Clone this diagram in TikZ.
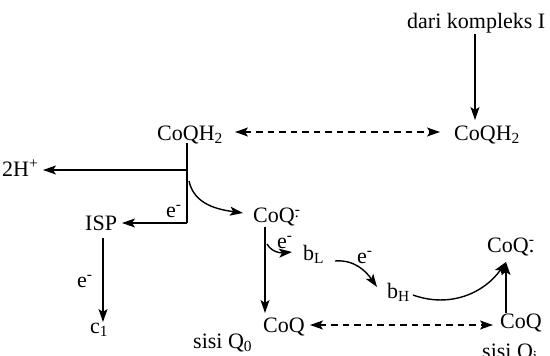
\documentclass[tikz,border=0pt]{standalone}
\usepackage{fontspec}
\setmainfont{Liberation Serif}
\usetikzlibrary{arrows.meta}
\begin{document}
\begin{tikzpicture}[x=1pt,y=-1pt,
  lbl/.style={inner sep=0pt, anchor=base west, font=\fontsize{22}{26}\selectfont},
  tip/.tip={Stealth[length=13pt,width=9pt,inset=3pt]},
  arr/.style={line width=1.4pt, -tip},
  ln/.style={line width=1.4pt},
  dbl/.style={line width=1.4pt, dash pattern=on 6.5pt off 5pt, tip-tip}]
\useasboundingbox (0,0) rectangle (550,356);
% nodes
\node[lbl] (dari) at (407,28) {dari kompleks I};
\node[lbl] (qh2r) at (454,140) {CoQH\textsubscript{2}};
\node[lbl] (qh2l) at (157,140) {CoQH\textsubscript{2}};
\node[lbl] (hp) at (2,176) {2H\textsuperscript{+}};
\node[lbl] (isp) at (85,230) {ISP};
\node[lbl] (c1) at (90,333) {c\textsubscript{1}};
\node[lbl] (qm) at (253,222) {CoQ\textsuperscript{\rlap{-}\raisebox{-3pt}{.}}};
\node[lbl] (bl) at (303,260) {b\textsubscript{L}};
\node[lbl] (bh) at (387,298) {b\textsubscript{H}};
\node[lbl] (qr) at (487,252) {CoQ\rlap{\textsuperscript{-}}.};
\node[lbl] (qb) at (263,332) {CoQ};
\node[lbl] (qbr) at (500,328) {CoQ};
\node[lbl] (s0) at (193,348) {sisi Q\textsubscript{0}};
\node[lbl] (si) at (482,358) {sisi Q\textsubscript{i}};
\node[lbl] (e1) at (166,217) {e\textsuperscript{-}};
\node[lbl] (e2) at (277,248) {e\textsuperscript{-}};
\node[lbl] (e3) at (357,263) {e\textsuperscript{-}};
\node[lbl] (e4) at (77,287) {e\textsuperscript{-}};
% coordinates
\coordinate (d1) at (475,34);
\coordinate (d2) at (475,120);
\coordinate (t1) at (235,132);
\coordinate (t2) at (440,132);
\coordinate (j0) at (187,143);
\coordinate (j1) at (187,170);
\coordinate (j2) at (187,223);
\coordinate (hpe) at (43,170);
\coordinate (ispe) at (122,223);
\coordinate (cs) at (189,181);
\coordinate (ce) at (243,213);
\coordinate (i1) at (103,238);
\coordinate (i2) at (103,322);
\coordinate (m1) at (265,227);
\coordinate (m2) at (265,313);
\coordinate (ss) at (267,244);
\coordinate (se) at (292,252);
\coordinate (l1) at (335,261);
\coordinate (l2) at (377,287);
\coordinate (h1) at (413,295);
\coordinate (h2) at (506,262);
\coordinate (r1) at (506,313);
\coordinate (b1) at (310,325);
\coordinate (b2) at (493,325);
% connectors
\draw[arr] (d1) -- (d2);
\draw[dbl] (t1) -- (t2);
\draw[ln] (j0) -- (j2);
\draw[arr] (j1) -- (hpe);
\draw[arr] (j2) -- (ispe);
\draw[arr] (cs) to[out=-78,in=172] (ce);
\draw[arr] (i1) -- (i2);
\draw[arr] (m1) -- (m2);
\draw[arr] (ss) to[out=-60,in=185] (se);
\draw[arr] (l1) to[out=5,in=125] (l2);
\draw[arr] (h1) to[out=-20,in=235] (h2);
\draw[arr] (r1) -- (h2);
\draw[dbl] (b1) -- (b2);
\end{tikzpicture}
\end{document}
